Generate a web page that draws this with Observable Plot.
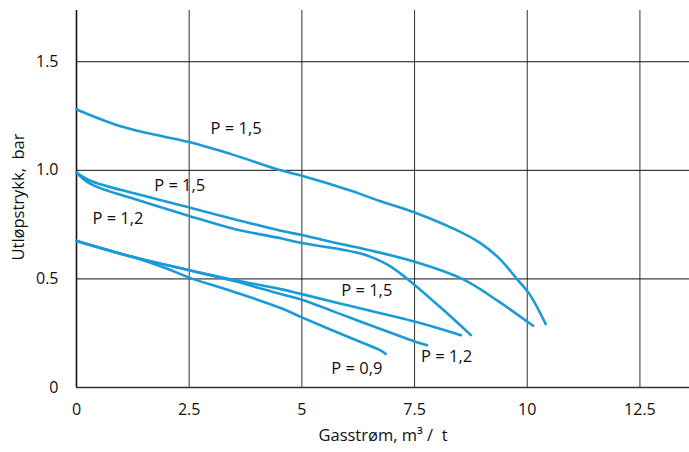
<!DOCTYPE html>
<html>
<head>
<meta charset="utf-8">
<script src="https://cdn.jsdelivr.net/npm/d3@7"></script>
<script src="https://cdn.jsdelivr.net/npm/@observablehq/plot@0.6"></script>
<style>
  html, body { margin: 0; padding: 0; background: #fff; }
  #chart svg { display: block; }
</style>
</head>
<body>
<div id="chart"></div>
<script>
// ---- data ----
const xTicks = [0, 2.5, 5, 7.5, 10, 12.5];
const xTickLabels = ["0", "2.5", "5", "7.5", "10", "12.5"];
const yTicks = [0, 0.5, 1.0, 1.5];
const yTickLabels = ["0", "0.5", "1.0", "1.5"];
const xTitle = "Gasstrøm, m³ /\u00a0\u00a0t";
const yTitle = "Utløpstrykk,\u00a0\u00a0bar";

// upper P = 1,5 curve
const flowA  = [0, 0.9, 1.65, 2.5, 3.5, 4.53, 5, 6.09, 6.71, 7.5, 8.41, 8.97, 9.4, 9.75, 10.05, 10.41];
const pressA = [1.28, 1.208, 1.168, 1.13, 1.07, 1.0, 0.975, 0.906, 0.86, 0.806, 0.727, 0.664, 0.59, 0.505, 0.43, 0.292];
// middle P = 1,5 curve
const flowB  = [0, 0.32, 1.36, 2.5, 3.5, 4.53, 5, 5.86, 6.5, 7.5, 8.56, 9.34, 10.13];
const pressB = [0.99, 0.951, 0.89, 0.829, 0.775, 0.722, 0.702, 0.661, 0.632, 0.579, 0.5, 0.4, 0.284];
// middle P = 1,2 curve
const flowC  = [0, 0.32, 1.36, 2.5, 3.5, 4.53, 5, 5.86, 6.38, 6.9, 7.34, 8.08, 8.75];
const pressC = [0.99, 0.936, 0.863, 0.79, 0.73, 0.687, 0.665, 0.636, 0.612, 0.566, 0.5, 0.368, 0.241];
// lower P = 1,5 curve
const flowD  = [0, 1, 1.5, 2.5, 3.5, 4.53, 5, 6.06, 7.5, 8.53];
const pressD = [0.675, 0.615, 0.588, 0.54, 0.495, 0.453, 0.43, 0.376, 0.304, 0.241];
// lower P = 1,2 curve
const flowE  = [0, 1, 1.5, 2.5, 3.5, 4.53, 5, 6.06, 7, 7.5, 7.78];
const pressE = [0.675, 0.615, 0.588, 0.54, 0.49, 0.43, 0.404, 0.322, 0.25, 0.212, 0.195];
// lower P = 0,9 curve
const flowF  = [0, 1, 1.3, 2, 2.5, 3.5, 4.53, 5, 6.06, 6.71, 6.86];
const pressF = [0.675, 0.615, 0.598, 0.548, 0.506, 0.44, 0.366, 0.323, 0.23, 0.174, 0.155];

const curveNames = ["A", "B", "C", "D", "E", "F"];
const curveFlows = [flowA, flowB, flowC, flowD, flowE, flowF];
const curvePress = [pressA, pressB, pressC, pressD, pressE, pressF];

// curve labels
const labelText = ["P = 1,5", "P = 1,5", "P = 1,2", "P = 1,5", "P = 1,2", "P = 0,9"];
const labelX    = [3.54, 2.29, 0.92, 6.44, 8.21, 6.22];
const labelY    = [1.191, 0.929, 0.777, 0.445, 0.141, 0.085];

// ---- build tables ----
const lineRows = curveNames.flatMap((name, i) =>
  curveFlows[i].map((f, j) => ({curve: name, flow: f, pressure: curvePress[i][j]})));
const labelRows = labelText.map((t, i) => ({text: t, x: labelX[i], y: labelY[i]}));

const FONT = "'Open Sans', 'Noto Sans', sans-serif";
const BLUE = "#1a9bd7";

const chart = Plot.plot({
  width: 689,
  height: 452,
  marginLeft: 76,
  marginRight: 0,
  marginTop: 10,
  marginBottom: 65,
  style: {fontFamily: FONT, fontSize: "16px", color: "#111", background: "#fff"},
  x: {domain: [0, 13.6]},
  y: {domain: [0, 1.736]},
  marks: [
    Plot.ruleX(xTicks.slice(1), {stroke: "#333", strokeWidth: 1}),
    Plot.ruleY(yTicks.slice(1), {stroke: "#111", strokeWidth: 1}),
    Plot.ruleX([0], {stroke: "#111", strokeWidth: 1.6}),
    Plot.ruleY([0], {stroke: "#333", strokeWidth: 1.6}),
    Plot.axisX({ticks: xTicks, tickFormat: (d, i) => xTickLabels[i], tickSize: 0, tickPadding: 16, label: null, fontSize: 16}),
    Plot.axisY({ticks: yTicks, tickFormat: (d, i) => yTickLabels[i], tickSize: 0, tickPadding: 18, label: null, fontSize: 16}),
    Plot.line(lineRows, {x: "flow", y: "pressure", z: "curve", stroke: BLUE, strokeWidth: 2.6, curve: "catmull-rom"}),
    Plot.text(labelRows, {x: "x", y: "y", text: "text", fontSize: 16.5, fill: "#111"}),
    Plot.text([xTitle], {frameAnchor: "bottom", dy: 53, fontSize: 16.5, fill: "#111", textAnchor: "middle"}),
    Plot.text([yTitle], {frameAnchor: "left", dx: -58, dy: -2, rotate: -90, fontSize: 16.5, fill: "#111", textAnchor: "middle"})
  ]
});
document.getElementById("chart").appendChild(chart);
</script>
</body>
</html>
